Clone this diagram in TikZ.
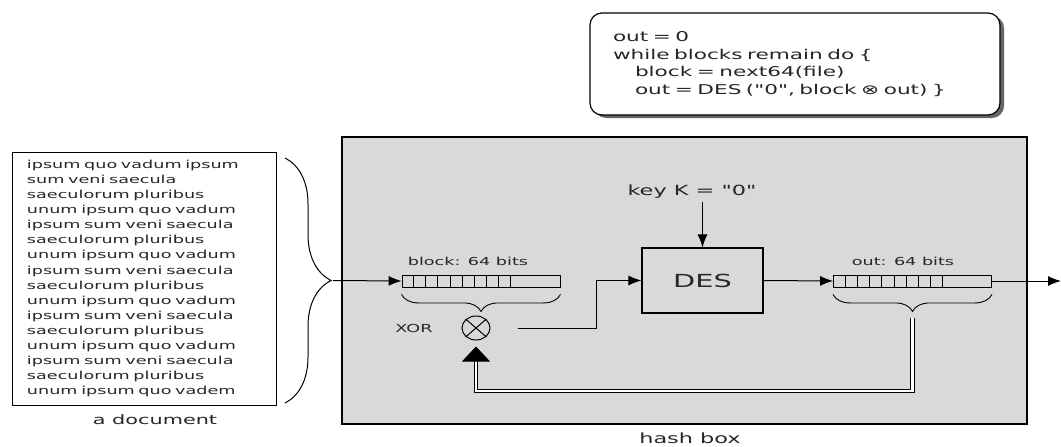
\documentclass[tikz,border=0pt]{standalone}
\usepackage{fontspec}
\setmainfont[FakeStretch=1.6,Ligatures=TeXOff]{DejaVu Sans}
\usetikzlibrary{arrows.meta,decorations.pathreplacing,shadows,shapes.geometric}

\begin{document}
\begin{tikzpicture}[x=1pt,y=-1pt,
  >={Latex[length=13pt,width=10pt]},
  every node/.style={text=black!85},
  reg/.style={draw,line width=0.9pt,minimum width=158pt,minimum height=12pt,inner sep=0pt},
  regbrace/.style={decorate,decoration={brace,mirror,amplitude=17pt},line width=0.9pt},
  small/.style={font=\fontsize{11}{13}\selectfont},
  conn/.style={line width=1pt}]
\useasboundingbox (0,0) rectangle (1061,447);

% the hash box
\filldraw[fill=black!15,line width=1.6pt] (342,137) rectangle (1027,424);
\node[font=\fontsize{14}{16}\selectfont] (hashl) at (690,438) {hash box};

% the document
\node[draw,line width=1pt,minimum width=264pt,minimum height=253pt,text width=234pt,
  inner xsep=15pt,align=left,font=\fontsize{11}{15.07}\selectfont] (doc) at (144,278.5)
  {ipsum quo vadum ipsum\\ sum veni saecula\\ saeculorum pluribus\\ unum ipsum quo vadum\\
   ipsum sum veni saecula\\ saeculorum pluribus\\ unum ipsum quo vadum\\ ipsum sum veni saecula\\
   saeculorum pluribus\\ unum ipsum quo vadum\\ ipsum sum veni saecula\\ saeculorum pluribus\\
   unum ipsum quo vadum\\ ipsum sum veni saecula\\ saeculorum pluribus\\ unum ipsum quo vadem};
\node[font=\fontsize{13}{15}\selectfont] (docl) at (155,420) {a document};
\draw[decorate,decoration={brace,amplitude=46pt},line width=1pt] (285,158) -- (285,403);
\coordinate (doctip) at (333,280.5);

% the pseudo code
\node[draw,line width=1.2pt,rounded corners=12pt,fill=white,
  drop shadow={shadow xshift=4pt,shadow yshift=-3pt,fill=black!60,opacity=1},
  minimum width=410pt,minimum height=102pt,text width=364pt,inner xsep=23pt,align=left,
  font=\fontsize{13.5}{17.7}\selectfont] (code) at (795,64)
  {out = 0\\ while blocks remain do \{\\ \hspace*{22pt}block = next64(file)\\
   \hspace*{22pt}out = DES ("0", block ⊗ out) \}};

% registers
\node[reg] (blk) at (481,281) {};
\node[reg] (outr) at (912.5,281) {};
\foreach \i in {1,...,9} {
  \draw[line width=0.9pt] ([xshift=\i*12.1pt]blk.south west) -- ([xshift=\i*12.1pt]blk.north west);
  \draw[line width=0.9pt] ([xshift=\i*12.2pt]outr.south west) -- ([xshift=\i*12.2pt]outr.north west);
}
\node[small] (blkl) at (468,261) {block: 64 bits};
\node[small] (outl) at (903,261) {out: 64 bits};
\draw[regbrace] ([yshift=-7pt]blk.south west) -- ([yshift=-7pt]blk.south east);
\draw[regbrace] ([yshift=-7pt]outr.south west) -- ([yshift=-7pt]outr.south east);

% DES and key
\node[draw,line width=1.2pt,minimum width=121pt,minimum height=65pt,
  font=\fontsize{18}{20}\selectfont] (des) at (702.5,280.5) {DES};
\node[font=\fontsize{14}{16}\selectfont] (key) at (692,192) {key K = "0"};

% xor
\node[draw,ellipse,line width=1pt,minimum width=28pt,minimum height=24pt,inner sep=0pt] (xor) at (476,328) {};
\draw[line width=1pt] (xor.north west) -- (xor.south east) (xor.north east) -- (xor.south west);
\node[small] (xorl) at (414,328) {XOR};

% connectors
\draw[conn,->] (doctip) -- (blk.west);
\draw[conn,->] (key.south -| des) -- (des.north);
\draw[conn,->] ([xshift=27pt]xor.east) -| ([xshift=-45pt]des.west) -- (des.west);
\draw[conn,->] (des.east) -- (outr.west);
\coordinate (hashout) at (1061,281);
\draw[conn,->] (outr.east) -- (hashout);

% feedback
\coordinate (fbtop) at (912.5,318);
\coordinate (fbcorner) at (912.5,391);
\draw[line width=0.8pt,double,double distance=2.5pt,-{Triangle[width=28pt,length=15pt]}]
  (fbtop) -- (fbcorner) -| ([yshift=-6pt]xor.south);
\end{tikzpicture}
\end{document}
